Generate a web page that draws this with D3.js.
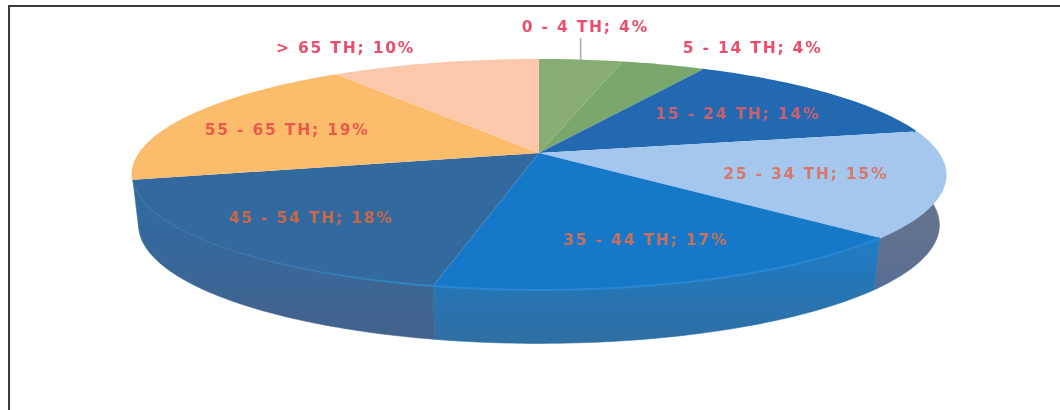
<!DOCTYPE html>
<html>
<head>
<meta charset="utf-8">
<script src="https://cdnjs.cloudflare.com/ajax/libs/d3/7.8.5/d3.min.js"></script>
<style>
html,body{margin:0;padding:0;background:#fff;overflow:hidden}
svg{display:block}
text{font-family:"DejaVu Sans",sans-serif;font-size:15.5px;font-weight:700;letter-spacing:1.8px;text-anchor:middle;dominant-baseline:central}
</style>
</head>
<body>
<svg id="c" width="1060" height="410"></svg>
<script>
const categories = ["0 - 4 TH","5 - 14 TH","15 - 24 TH","25 - 34 TH","35 - 44 TH","45 - 54 TH","55 - 65 TH","> 65 TH"];
const shares = [4,4,14,15,17,18,19,10];
const topColors = ["#87ad72","#7aa76c","#2069b2","#a5c7ee","#1778c8","#33699e","#fbbc6c","#fbc8ab"];
const wallTop = ["#87ad72","#76a56c","#2069b2","#63738f","#1c7dca","#33699e","#fbbc6c","#fbc8ab"];
const wallBottom = ["#5d7d50","#5d7d50","#1b4f86","#4f6898","#2f6fa2","#44628c","#c08a4c","#c79a80"];
const labelColors = ["#e9506c","#e9506c","#c9606f","#d8786a","#c8705a","#c8684c","#ea5a4c","#e9506c"];
const rimColors = ["#87ad72","#7aa76c","#2069b2","#a5c7ee","#2a86d0","url(#rimFade)","#fbbc6c","#fbc8ab"];
const wallVisible = [false,false,false,true,true,true,false,false];
/* placement of each label relative to the slice's projected centroid */
const labelRadius = [1.62,1.3,0.65,0.65,0.65,0.65,0.65,1.3];
const labelShift = [[-15,10],[60,4],[5,1],[8,2],[17,9],[-28,9],[-19,1],[-65,6]];

const W = 1060, H = 410;
const cx = 539, cy = 153, halfW = 399, halfH = 110.8, persp = 0.191;
const depth = 50, wallScaleX = 0.985, wallScaleY = 1.03, ellipseMidY = 175;

const sx = d3.scaleLinear().domain([-1,1]).range([cx-halfW,cx+halfW]);
const sy = d3.scaleLinear().domain([-1,1]).range([cy-halfH,cy+halfH]);

function project(angle, r){
  const u = r*Math.sin(angle), v = -r*Math.cos(angle), w = 1-persp*v;
  return [sx(u/w), sy(v/w)];
}
function lower(p){
  return [cx+(p[0]-cx)*wallScaleX, ellipseMidY+(p[1]-ellipseMidY)*wallScaleY+depth];
}
function rim(a0,a1){
  const n = Math.max(2,Math.ceil((a1-a0)/0.02));
  return d3.range(n+1).map(i=>project(a0+(a1-a0)*i/n,1));
}
const line = d3.line();
const pie = d3.pie().sort(null).value(d=>d)(shares);

const svg = d3.select("#c");
const defs = svg.append("defs");
const blur = defs.append("filter").attr("id","soft")
  .attr("filterUnits","userSpaceOnUse").attr("x",0).attr("y",0).attr("width",W).attr("height",H);
blur.append("feGaussianBlur").attr("stdDeviation",0.6);

shares.forEach((s,i)=>{
  const g = defs.append("linearGradient").attr("id","wall"+i).attr("gradientUnits","userSpaceOnUse")
    .attr("x1",0).attr("x2",0).attr("y1",225).attr("y2",343);
  g.append("stop").attr("offset","0%").attr("stop-color",wallTop[i]);
  g.append("stop").attr("offset","100%").attr("stop-color",wallBottom[i]);
});
const fade = defs.append("linearGradient").attr("id","rimFade").attr("gradientUnits","userSpaceOnUse")
  .attr("x1",230).attr("x2",430).attr("y1",0).attr("y2",0);
fade.append("stop").attr("offset","0%").attr("stop-color","#2f86c2").attr("stop-opacity",0);
fade.append("stop").attr("offset","100%").attr("stop-color","#2f86c2").attr("stop-opacity",1);

// frame of the surrounding figure
svg.append("path").attr("d",line([[9,H],[9,6],[W,6]])).attr("fill","none").attr("stroke","#3a3a3a").attr("stroke-width",2);

const root = svg.append("g").attr("filter","url(#soft)");

// leader line of the first label
const tip = project((pie[0].startAngle+pie[0].endAngle)/2,1);
root.append("line").attr("x1",tip[0]).attr("x2",tip[0]).attr("y1",tip[1]).attr("y2",38).attr("stroke","#a9adb0").attr("stroke-width",1.5);

// outer walls (only the front-facing slices show one)
root.append("g").selectAll("path").data(pie.filter((d,i)=>wallVisible[i])).join("path")
  .attr("d",d=>{const r=rim(d.startAngle,d.endAngle);return line(r.concat(r.map(lower).reverse()))+"Z";})
  .attr("fill",d=>`url(#wall${d.index})`)
  .attr("stroke",d=>`url(#wall${d.index})`).attr("stroke-width",0.6);

// top surface
root.append("g").selectAll("path").data(pie).join("path")
  .attr("d",d=>line([[cx,cy]].concat(rim(d.startAngle,d.endAngle)))+"Z")
  .attr("fill",(d,i)=>topColors[i]);

// light rim along the front edge
root.append("g").selectAll("path").data(pie).join("path")
  .attr("d",d=>line(rim(d.startAngle,d.endAngle)))
  .attr("fill","none").attr("stroke",(d,i)=>rimColors[i]).attr("stroke-width",2);

// labels
root.append("g").selectAll("text").data(pie).join("text")
  .attr("x",(d,i)=>project((d.startAngle+d.endAngle)/2,labelRadius[i])[0]+labelShift[i][0])
  .attr("y",(d,i)=>project((d.startAngle+d.endAngle)/2,labelRadius[i])[1]+labelShift[i][1])
  .attr("fill",(d,i)=>labelColors[i])
  .text((d,i)=>`${categories[i]}; ${shares[i]}%`);
</script>
</body>
</html>
